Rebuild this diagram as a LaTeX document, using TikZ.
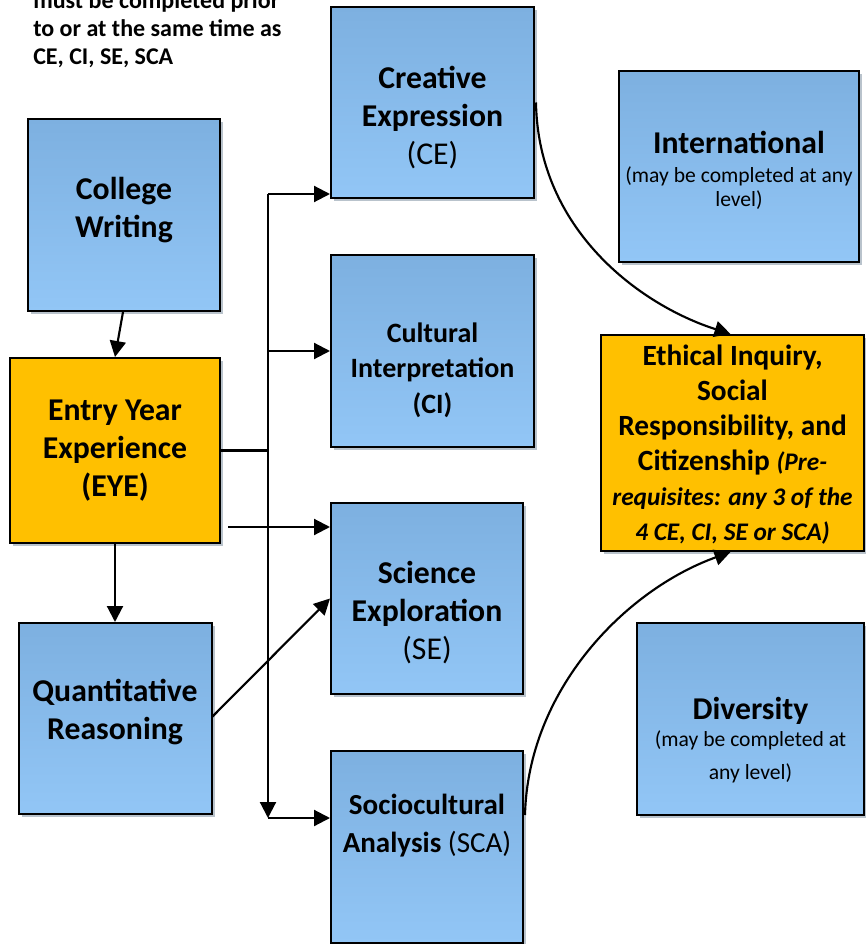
\documentclass[tikz,border=0pt]{standalone}
\usepackage{fontspec}
\setmainfont{Carlito}
\usetikzlibrary{arrows.meta,shadows,calc}
\definecolor{boxtop}{HTML}{7DB0E0}
\definecolor{boxbot}{HTML}{92C6F6}
\definecolor{gold}{HTML}{FFC000}
\definecolor{shadowc}{HTML}{A7B4BF}
\tikzset{
  base box/.style={draw=black, line width=1.5pt, inner sep=0pt,
    drop shadow={shadow xshift=2.6pt, shadow yshift=-2.6pt, fill=shadowc, opacity=0.8}},
  bluebox/.style={base box, top color=boxtop, bottom color=boxbot},
  goldbox/.style={base box, fill=gold},
  bw/.style 2 args={minimum width=#1*0.75pt, minimum height=#2*0.75pt},
  txt/.style={align=center, inner sep=0pt, font=\fontsize{23.8}{28.5}\selectfont\bfseries},
  arr/.style={line width=1.6pt, -{Triangle[length=12pt,width=12pt]}},
  ln/.style={line width=1.6pt},
}
\newcommand{\smtxt}{\fontsize{16.2}{19}\selectfont\mdseries}
\newcommand{\ittxt}{\fontsize{19}{26.25}\selectfont\itshape}
\begin{document}
\begin{tikzpicture}[x=0.75pt,y=-0.75pt]
\useasboundingbox (0,0) rectangle (865,944);
% boxes
\node[bluebox, bw={192}{192}] (cw) at (124,215) {};
\node[goldbox, bw={210}{185}] (eye) at (115,450.5) {};
\node[bluebox, bw={193}{191}] (qr) at (115,718.5) {};
\node[bluebox, bw={203}{191}] (ce) at (432.5,102.5) {};
\node[bluebox, bw={203}{192}] (ci) at (432.5,351) {};
\node[bluebox, bw={192}{191}] (se) at (427,598.5) {};
\node[bluebox, bw={192}{192}] (sca) at (427,847) {};
\node[bluebox, bw={240}{191}] (int) at (739,166.5) {};
\node[goldbox, bw={263}{216}] (eth) at (732.5,443) {};
\node[bluebox, bw={227}{192}] (div) at (750.5,719) {};
% texts
\node[txt] (cwt) at ($(cw)+(0,-5)$) {College\\Writing};
\node[txt] (eyet) at ($(eye)+(0,0)$) {Entry Year\\Experience\\(EYE)};
\node[txt] (qrt) at ($(qr)+(0,-6)$) {Quantitative\\Reasoning};
\node[txt] (cet) at ($(ce)+(0,15)$) {Creative\\Expression\\{\mdseries(CE)}};
\node[txt, font=\fontsize{21}{26.6}\selectfont\bfseries] (cit) at ($(ci)+(0,19)$) {Cultural\\Interpretation\\(CI)};
\node[txt] (set) at ($(se)+(0,14)$) {Science\\Exploration\\{\mdseries(SE)}};
\node[txt, font=\fontsize{21.8}{28.5}\selectfont\bfseries] (scat) at ($(sca)+(0,-21)$) {Sociocultural\\Analysis {\mdseries(SCA)}};
\node[txt] (intt) at ($(int)+(0,4)$) {International\\[-7pt]{\smtxt(may be completed at any}\\[-10pt]{\smtxt level)}};
\node[txt, font=\fontsize{22}{26.25}\selectfont\bfseries] (etht) at ($(eth)+(0,2)$) {Ethical Inquiry,\\Social\\Responsibility, and\\Citizenship {\ittxt(Pre-}\\{\ittxt requisites: any 3 of the}\\{\ittxt 4 CE, CI, SE or SCA)}};
\node[txt] (divt) at ($(div)+(0,21)$) {Diversity\\[-8pt]{\smtxt(may be completed at}\\[-4pt]{\smtxt any level)}};
\node[anchor=base west, align=left, inner sep=0pt, font=\fontsize{18}{21}\selectfont\bfseries] (note) at (33,65) {must be completed prior\\to or at the same time as\\CE, CI, SE, SCA};
% connectors
\coordinate (bt) at (268,194);
\coordinate (bb) at (268,818);
\coordinate (sst) at (228,527);
\draw[arr] ($(cw.south)+(-1,0)$) -- (eye.north);
\draw[ln] (eye.east) -- (eye.east -| bt);
\draw[arr] (bt) -- (bb);
\draw[arr] (bt) -- (bt -| ce.west);
\draw[arr] (bt |- ci.west) -- (ci.west);
\draw[arr] (bb) -- (bb -| sca.west);
\draw[arr] (sst) -- (sst -| se.west);
\draw[arr] (eye.south) -- (qr.north);
\draw[arr] ($(qr.east)+(0,-2)$) -- (se.west);
\draw[arr] ($(ce.east)+(1,0)$) .. controls (538,230) and (640,305) .. ($(eth.north)+(-2,0)$);
\draw[arr] ($(sca.east)+(1,-32)$) .. controls (528,690) and (625,590) .. ($(eth.south)+(-2,0)$);
\end{tikzpicture}
\end{document}
